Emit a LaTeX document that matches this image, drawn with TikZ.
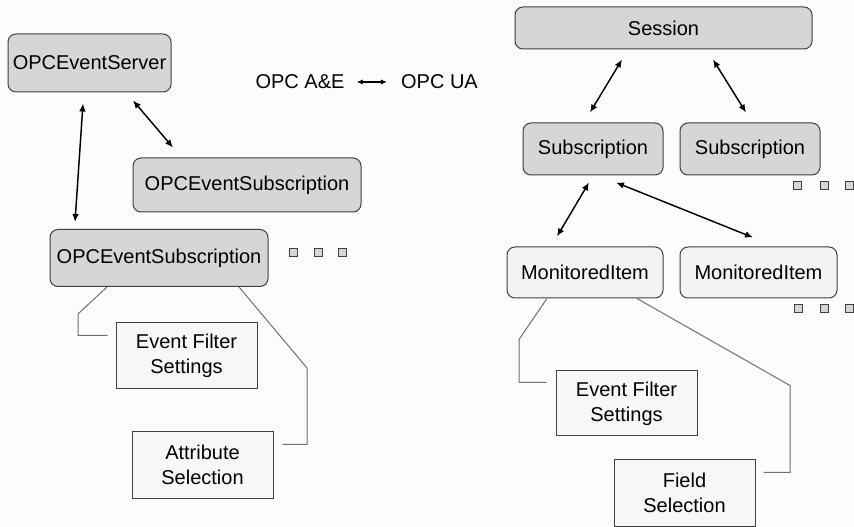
\documentclass[tikz,border=0pt]{standalone}
\usepackage{fontspec}
\setmainfont{Liberation Sans}
\usepackage{xcolor}
\usetikzlibrary{positioning, arrows.meta, calc}
\definecolor{objGray}{RGB}{214,214,214}
\definecolor{itemGray}{RGB}{243,243,243}
\definecolor{setGray}{RGB}{247,247,247}
\definecolor{edgeGray}{RGB}{64,64,64}
\definecolor{wireGray}{RGB}{112,112,112}

\begin{document}
\begin{tikzpicture}[
    x=0.75pt, y=-0.75pt,
    every node/.style={font=\fontsize{15}{18.75}\selectfont, inner sep=0pt},
    objbox/.style={rectangle, draw=edgeGray, fill=objGray, rounded corners=6pt, line width=0.75pt, align=center},
    itembox/.style={objbox, fill=itemGray},
    setbox/.style={rectangle, draw=edgeGray, fill=setGray, line width=0.75pt, align=center, minimum width=105.75pt, minimum height=49.5pt},
    dotbox/.style={rectangle, draw=edgeGray, fill=objGray, line width=0.5pt, minimum size=6pt},
    link/.style={{Latex[length=6pt,width=5pt]}-{Latex[length=6pt,width=5pt]}, line width=1.1pt},
    wire/.style={draw=wireGray, line width=0.75pt}
]
\fill[white!99!black] (0,0) rectangle (854,527);
\useasboundingbox (0,0) rectangle (854,527);

% OPC A&E side
\node[objbox, minimum width=122.25pt, minimum height=43.5pt] (srv) at (89.5,63) {OPCEventServer};
\node[objbox, minimum width=171pt, minimum height=40.5pt] (sub1) at (247,185) {OPCEventSubscription};
\node[objbox, minimum width=163.5pt, minimum height=42.75pt] (sub2) at (159,258) {OPCEventSubscription};

\draw[link] ($(srv.south)+(-6.5,11)$) -- ($(sub2.north)+(-84,-7)$);
\draw[link] ($(srv.south)+(43.5,8)$) -- ($(sub1.north)+(-74,-10)$);

\node[setbox] (efs1) at (186.5,356) {Event Filter\\Settings};
\node[setbox] (attr) at (202.5,465) {Attribute\\Selection};

\draw[wire] ($(sub2.south)+(-52,0)$) -- ++(-29,27) |- ($(efs1.north west)+(-8,13)$);
\draw[wire] ($(sub2.south)+(80,0)$) -- ++(68,81) |- ($(attr.north east)+(9,13)$);

% title
\node (ae) at (300,82) {OPC A\&E};
\node (ua) at (439.5,82) {OPC UA};
\draw[{Latex[length=4.5pt,width=4pt]}-{Latex[length=4.5pt,width=4pt]}, line width=0.9pt] ($(ae.east)+(12,0)$) -- ($(ua.west)+(-14,0)$);

% OPC UA side
\node[objbox, minimum width=222.75pt, minimum height=31.5pt] (session) at (663.5,28) {Session};
\node[objbox, minimum width=105pt, minimum height=39pt] (subL) at (593,149) {Subscription};
\node[objbox, minimum width=105pt, minimum height=39pt] (subR) at (750,149) {Subscription};
\node[itembox, minimum width=117pt, minimum height=38.25pt] (monL) at (585,272.5) {MonitoredItem};
\node[itembox, minimum width=117.75pt, minimum height=38.25pt] (monR) at (758.5,272.5) {MonitoredItem};

\draw[link] ($(session.south)+(-41.5,10)$) -- ($(subL.north)+(-3,-10)$);
\draw[link] ($(session.south)+(49.5,10)$) -- ($(subR.north)+(-4,-10)$);
\draw[link] ($(subL.south)+(-4,7)$) -- ($(monL.north)+(-28,-10)$);
\draw[link] ($(subL.south)+(23,7)$) -- ($(monR.north)+(-5.5,-9)$);

\node[setbox, minimum height=48.75pt] (efs2) at (626.5,403.5) {Event Filter\\Settings};
\node[setbox] (field) at (684.5,493) {Field\\Selection};

\draw[wire] ($(monL.south)+(-38,0)$) -- ++(-28,41) |- ($(efs2.north west)+(-9,12)$);
\draw[wire] ($(monL.south)+(52,0)$) -- ++(153,87) |- ($(field.north east)+(8,13)$);

% more items
\foreach \i/\x in {1/293, 2/318, 3/342} \node[dotbox] (dl\i) at (\x,252) {};
\foreach \i/\x in {1/797, 2/824, 3/849} \node[dotbox] (ds\i) at (\x,185) {};
\foreach \i/\x in {1/798, 2/824, 3/849} \node[dotbox] (dm\i) at (\x,308) {};

\end{tikzpicture}
\end{document}
